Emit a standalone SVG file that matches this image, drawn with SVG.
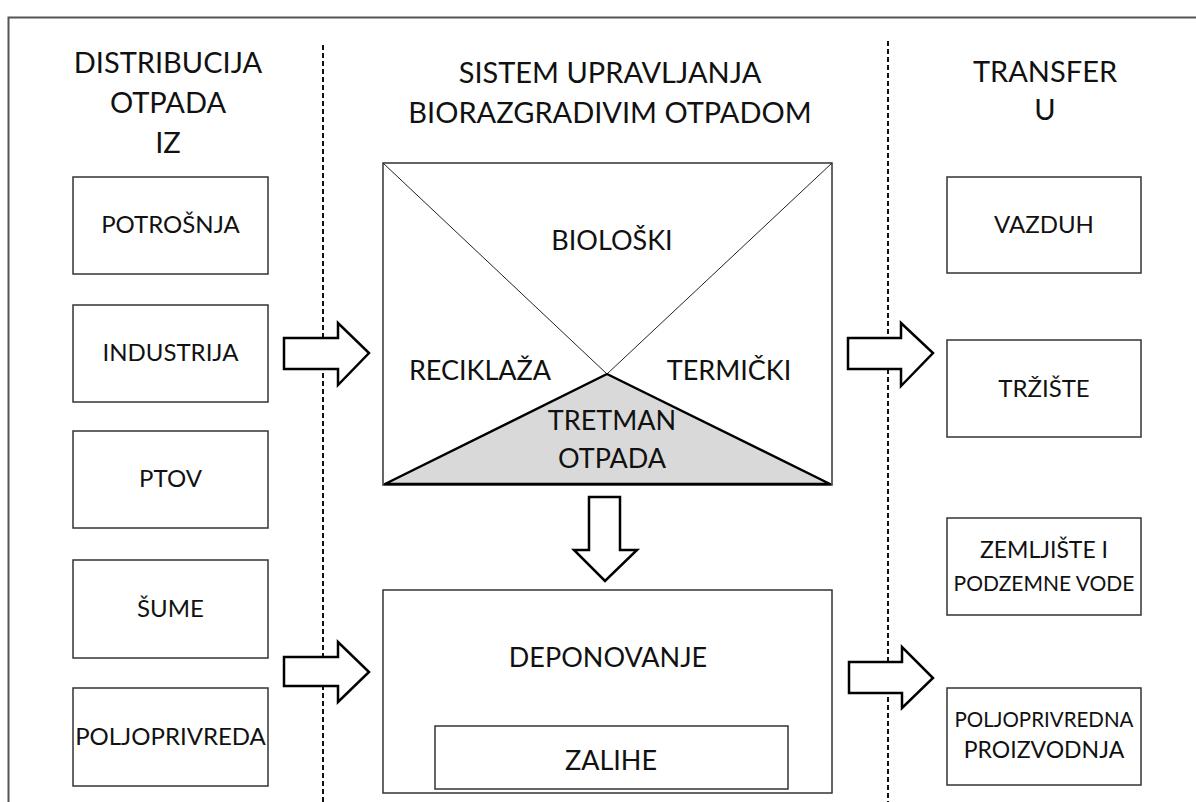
<svg xmlns="http://www.w3.org/2000/svg" width="1196" height="802" viewBox="0 0 1196 802">
  <style>
    text { font-family: Lato, "Open Sans", "Liberation Sans", sans-serif; fill: #111; text-anchor: middle; }
    .hdr { font-size: 29px; }
    .lbl { font-size: 24px; }
    .mid { font-size: 27px; }
    .box { fill: #fff; stroke: #333; stroke-width: 1.5; }
    .blk { fill: #fff; stroke: #000; stroke-width: 2.5; stroke-linejoin: miter; }
    .sep { stroke: #111; stroke-width: 2; stroke-dasharray: 5 3; fill: none; }
  </style>

  <rect width="1196" height="802" fill="#fff"/>
  <!-- outer frame (open to the right and bottom) -->
  <rect x="8.5" y="17.5" width="1200" height="800" fill="none" stroke="#555" stroke-width="2"/>

  <!-- column separators -->
  <line class="sep" x1="323" y1="45" x2="323" y2="802"/>
  <line class="sep" x1="888" y1="41" x2="888" y2="802"/>

  <!-- column headings -->
  <g id="heading-left">
    <text class="hdr" x="168" y="73">DISTRIBUCIJA</text>
    <text class="hdr" x="168" y="113">OTPADA</text>
    <text class="hdr" x="168" y="153">IZ</text>
  </g>
  <g id="heading-middle">
    <text class="hdr" x="610" y="83">SISTEM UPRAVLJANJA</text>
    <text class="hdr" x="610" y="123">BIORAZGRADIVIM OTPADOM</text>
  </g>
  <g id="heading-right">
    <text class="hdr" x="1045" y="82">TRANSFER</text>
    <text class="hdr" x="1045" y="120">U</text>
  </g>

  <!-- sources -->
  <g id="potrosnja">
    <rect class="box" x="73" y="177" width="195" height="97"/>
    <text class="lbl" x="170.5" y="233">POTROŠNJA</text>
  </g>
  <g id="industrija">
    <rect class="box" x="73" y="305" width="195" height="97"/>
    <text class="lbl" x="170.5" y="361">INDUSTRIJA</text>
  </g>
  <g id="ptov">
    <rect class="box" x="73" y="431" width="195" height="97"/>
    <text class="lbl" x="170.5" y="487">PTOV</text>
  </g>
  <g id="sume">
    <rect class="box" x="73" y="560" width="195" height="98"/>
    <text class="lbl" x="170.5" y="617">ŠUME</text>
  </g>
  <g id="poljoprivreda">
    <rect class="box" x="73" y="688" width="195" height="98"/>
    <text class="lbl" x="170.5" y="745">POLJOPRIVREDA</text>
  </g>

  <!-- management system -->
  <g id="sistem">
    <rect class="box" x="383" y="163" width="449" height="322"/>
    <line x1="383" y1="163" x2="607" y2="374" stroke="#222" stroke-width="1"/>
    <line x1="832" y1="163" x2="607" y2="374" stroke="#222" stroke-width="1"/>
    <polygon points="385,484 607,374 830,484" fill="#d9d9d9" stroke="#000" stroke-width="2.5" stroke-linejoin="round"/>
    <text class="mid" x="612" y="250">BIOLOŠKI</text>
    <text class="mid" x="480" y="380">RECIKLAŽA</text>
    <text class="mid" x="729" y="380">TERMIČKI</text>
    <text class="mid" x="612" y="430">TRETMAN</text>
    <text class="mid" x="612" y="468">OTPADA</text>
  </g>

  <g id="deponovanje">
    <rect class="box" x="383" y="590" width="449" height="203"/>
    <text class="mid" x="608" y="667">DEPONOVANJE</text>
    <rect class="box" x="435" y="726" width="353" height="63"/>
    <text class="mid" x="611" y="770">ZALIHE</text>
  </g>

  <!-- destinations -->
  <g id="vazduh">
    <rect class="box" x="947" y="177" width="194" height="96"/>
    <text class="lbl" x="1044" y="233">VAZDUH</text>
  </g>
  <g id="trziste">
    <rect class="box" x="947" y="340" width="194" height="97"/>
    <text class="lbl" x="1044" y="397">TRŽIŠTE</text>
  </g>
  <g id="zemljiste">
    <rect class="box" x="947" y="518" width="194" height="97"/>
    <text x="1044" y="558" style="font-size:23px">ZEMLJIŠTE I</text>
    <text x="1044" y="591" style="font-size:21px">PODZEMNE VODE</text>
  </g>
  <g id="poljoprivredna-proizvodnja">
    <rect class="box" x="947" y="688" width="194" height="97"/>
    <text x="1044" y="727" style="font-size:20.5px">POLJOPRIVREDNA</text>
    <text x="1044" y="758" style="font-size:23px">PROIZVODNJA</text>
  </g>

  <!-- block arrows -->
  <g id="connectors">
    <polygon class="blk" points="284,338 338,338 338,323 369,353 338,385 338,369 284,369"/>
    <polygon class="blk" points="284,657 338,657 338,642 369,672 338,702 338,686 284,686"/>
    <polygon class="blk" points="848,338 901,338 901,323 933,353 901,386 901,369 848,369"/>
    <polygon class="blk" points="849,662 902,662 902,647 933,678 902,708 902,693 849,693"/>
    <polygon class="blk" points="589,497 620,497 620,550 637,550 605,581 574,550 589,550"/>
  </g>
</svg>
